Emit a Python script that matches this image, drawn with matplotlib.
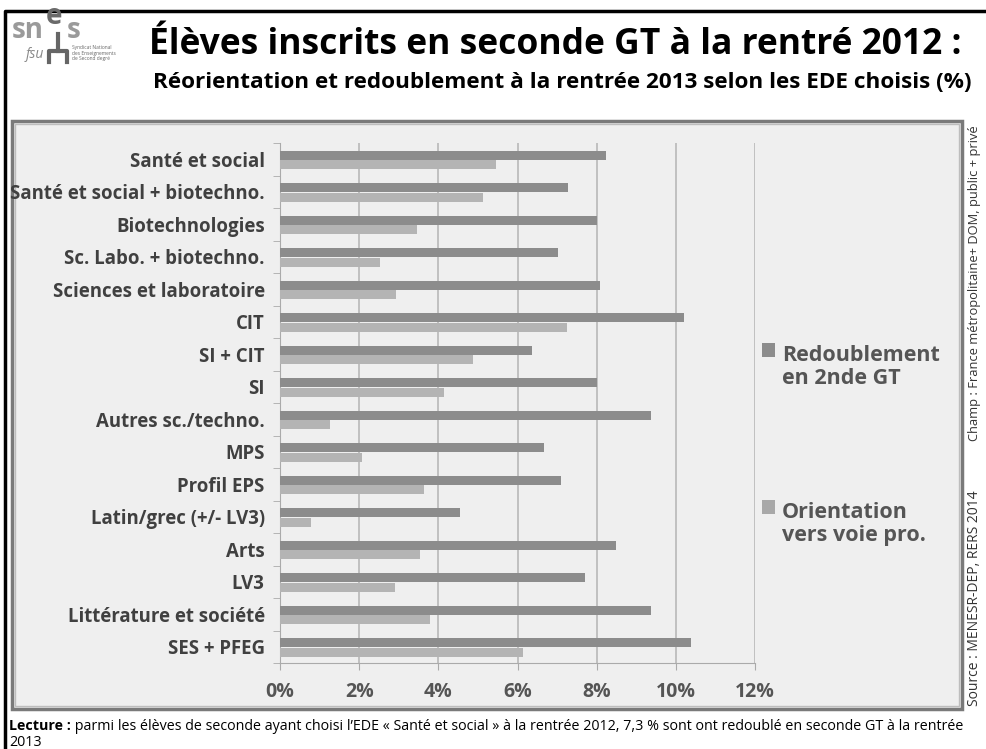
import numpy as np
import matplotlib.pyplot as plt
from matplotlib.patches import Rectangle
from matplotlib.lines import Line2D

# données (en %)
categories = ['Santé et social', 'Santé et social + biotechno.', 'Biotechnologies',
              'Sc. Labo. + biotechno.', 'Sciences et laboratoire', 'CIT', 'SI + CIT', 'SI',
              'Autres sc./techno.', 'MPS', 'Profil EPS', 'Latin/grec (+/- LV3)', 'Arts',
              'LV3', 'Littérature et société', 'SES + PFEG']
redoublement = [8.23, 7.28, 8.01, 7.02, 8.09, 10.2, 6.36, 8.01,
                9.37, 6.66, 7.10, 4.55, 8.50, 7.71, 9.37, 10.38]
orientation = [5.45, 5.13, 3.47, 2.53, 2.93, 7.26, 4.87, 4.14,
               1.27, 2.06, 3.64, 0.78, 3.54, 2.90, 3.79, 6.14]
xticks = [0, 2, 4, 6, 8, 10, 12]

plt.rcParams['font.family'] = ['Open Sans', 'DejaVu Sans']

W, H = 987, 749
fig = plt.figure(figsize=(W / 100, H / 100), dpi=100)
fig.patch.set_facecolor('white')


def fx(px):
    return px / W


def fy(py):
    return 1 - py / H


# cadre noir extérieur
fig.add_artist(Line2D([fx(5), fx(5), fx(987)], [fy(749), fy(11), fy(11)],
                      color='black', lw=2.5, transform=fig.transFigure))

# zone grise du graphique (double trait)
fig.add_artist(Rectangle((fx(12), fy(709)), fx(962) - fx(12), fy(121) - fy(709),
                         transform=fig.transFigure, facecolor='#efefef',
                         edgecolor='#7a7a7a', lw=2.5, zorder=0))
fig.add_artist(Rectangle((fx(15), fy(706)), fx(959) - fx(15), fy(124) - fy(706),
                         transform=fig.transFigure, facecolor='none',
                         edgecolor='#bdbdbd', lw=1, zorder=0))

# logo (fond blanc par-dessus le cadre)
fig.add_artist(Rectangle((0, fy(62)), fx(128), 62 / H, transform=fig.transFigure,
                         facecolor='white', edgecolor='none'))
fig.text(fx(44), fy(30), 'sn', fontsize=20, fontweight='bold', color='#9a9a9a',
         va='center', ha='right')
fig.text(fx(46), fy(16), 'e', fontsize=20, fontweight='bold', color='#6a6a6a', va='center')
fig.text(fx(67), fy(30), 's', fontsize=20, fontweight='bold', color='#9a9a9a', va='center')
fig.text(fx(26), fy(54), 'fsu', fontsize=10, style='italic', color='#888888', va='center')
fig.add_artist(Line2D([fx(49), fx(49), fx(67), fx(67)], [fy(62), fy(51), fy(51), fy(62)],
                      color='#666666', lw=3, transform=fig.transFigure))
fig.add_artist(Line2D([fx(58), fx(58)], [fy(34), fy(51)], color='#666666', lw=3,
                      transform=fig.transFigure))
fig.text(fx(72), fy(53), 'Syndicat National\ndes Enseignements\nde Second degré',
         fontsize=3.5, color='#666666', va='center', linespacing=1.1)

# titres
fig.text(fx(555), fy(45), 'Élèves inscrits en seconde GT à la rentré 2012 :',
         fontsize=25.5, fontweight='bold', color='black', ha='center', va='center')
fig.text(fx(562), fy(82), 'Réorientation et redoublement à la rentrée 2013 selon les EDE choisis (%)',
         fontsize=16.2, fontweight='bold', color='black', ha='center', va='center')

# graphique
ax = fig.add_axes([fx(280), fy(663), fx(755) - fx(280), fy(143) - fy(663)])
ax.patch.set_visible(False)
y = np.arange(len(categories))
ax.barh(y - 0.12, redoublement, height=0.28, color='#8c8c8c', zorder=3)
ax.barh(y + 0.17, orientation, height=0.28, color='#b4b4b4', zorder=3)

ax.set_xlim(0, 12)
ax.set_ylim(len(categories) - 0.5, -0.5)
ax.set_xticks(xticks)
ax.set_xticklabels([f'{v}%' for v in xticks], fontsize=14, fontweight='bold', color='#555555')
ax.set_yticks(y)
ax.set_yticklabels(categories, fontsize=13.4, fontweight='bold', color='#404040')
ax.set_yticks(np.arange(len(categories) + 1) - 0.5, minor=True)
ax.tick_params(axis='y', which='major', length=0, pad=11)
ax.tick_params(axis='y', which='minor', length=5, color='#aaaaaa')
ax.tick_params(axis='x', length=5, color='#aaaaaa', pad=9)
ax.grid(axis='x', color='#b8b8b8', lw=1.2, zorder=0)
for s in ['top', 'right']:
    ax.spines[s].set_visible(False)
ax.spines['left'].set_color('#aaaaaa')
ax.spines['bottom'].set_color('#aaaaaa')

# légende
fig.add_artist(Rectangle((fx(762), fy(357)), fx(13), 14 / H, transform=fig.transFigure,
                         facecolor='#8c8c8c', edgecolor='none'))
fig.text(fx(782), fy(345), 'Redoublement\nen 2nde GT', fontsize=15.5, fontweight='bold',
         color='#555555', va='top', linespacing=1.15)
fig.add_artist(Rectangle((fx(762), fy(514)), fx(13), 14 / H, transform=fig.transFigure,
                         facecolor='#a8a8a8', edgecolor='none'))
fig.text(fx(782), fy(502), 'Orientation\nvers voie pro.', fontsize=15.5, fontweight='bold',
         color='#555555', va='top', linespacing=1.15)

# textes verticaux à droite
fig.text(fx(975), fy(283), 'Champ : France métropolitaine+ DOM, public + privé',
         fontsize=9.3, color='#333333', rotation=90, ha='center', va='center')
fig.text(fx(975), fy(598), 'Source : MENESR-DEP, RERS 2014',
         fontsize=10, color='#333333', rotation=90, ha='center', va='center')

# note de lecture
t1 = fig.text(fx(9), fy(726), 'Lecture :', fontsize=10.3, fontweight='bold', color='black',
              va='center')
fig.text(fx(9), fy(742), '2013', fontsize=10.3, color='black', va='center')
ax.annotate(' parmi les élèves de seconde ayant choisi l\u2019EDE « Santé et social » à la rentrée 2012, '
            '7,3 % sont ont redoublé en seconde GT à la rentrée',
            xy=(1, 0.5), xycoords=t1, va='center', fontsize=10.3, color='black',
            annotation_clip=False)

fig.savefig('out.png', dpi=100)
